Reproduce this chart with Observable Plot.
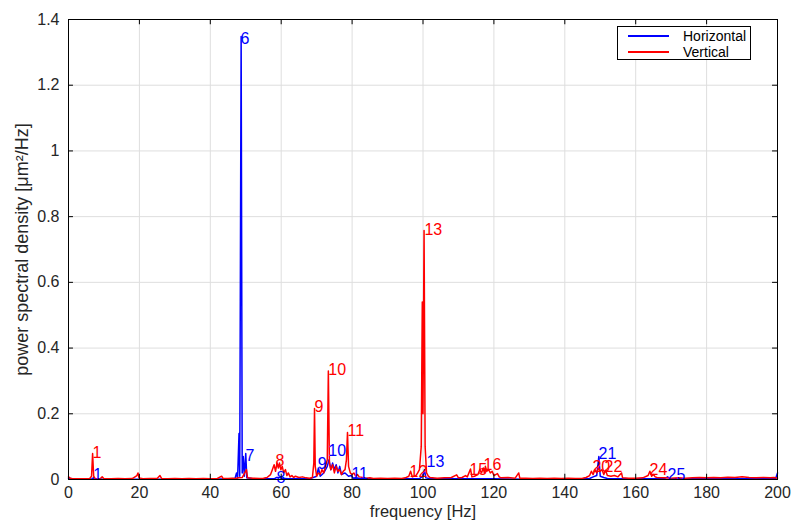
<!DOCTYPE html>
<html>
<head>
<meta charset="utf-8">
<script src="https://cdn.jsdelivr.net/npm/d3@7"></script>
<script src="https://cdn.jsdelivr.net/npm/@observablehq/plot@0.6"></script>
<style>
  html, body { margin: 0; padding: 0; background: #fff; }
  #wrap { position: relative; width: 791px; height: 521px; font-family: "Liberation Sans", Arial, Helvetica, sans-serif; }
  #legend { position: absolute; left: 617px; top: 26px; width: 134px; height: 34px; border: 1px solid #000; background: #fff; box-sizing: border-box; font-size: 14px; color: #000; }
  #legend .row { position: absolute; left: 0; height: 16px; line-height: 16px; }
  #legend .sw { position: absolute; left: 10px; width: 41px; height: 0; border-top: 2px solid; }
  #legend .lb { position: absolute; left: 65px; white-space: nowrap; }
</style>
</head>
<body>
<div id="wrap"></div>
<script>
// ---- Data ----
const seriesNames = ["Horizontal", "Vertical"];
const seriesColors = ["#0000ff", "#ff0000"];

// Horizontal (blue) spectrum: frequency [Hz], PSD [µm²/Hz]
const hFreq = [0, 2, 5, 6.8, 7, 7.3, 10, 20, 30, 40, 46, 47, 47.4, 47.7, 48.1, 48.3, 48.7, 49.0, 49.3, 49.6, 50.0, 50.3, 52, 58, 58.7, 59.6, 60, 62, 68, 70, 70.5, 71, 72, 73, 73.5, 74, 74.5, 75, 75.5, 76, 76.5, 77, 78, 79, 79.8, 80.3, 81, 82, 90, 99, 100.0, 100.4, 100.8, 102, 110, 120, 130, 140, 147, 148, 149, 149.6, 150, 151, 152, 160, 168, 169, 169.5, 180, 190, 199.5, 200];
const hPsd  = [0.004, 0.001, 0.001, 0.002, 0.006, 0.001, 0.001, 0.001, 0.001, 0.001, 0.002, 0.004, 0.02, 0.004, 0.14, 0.01, 1.348, 0.02, 0.07, 0.01, 0.079, 0.005, 0.002, 0.002, 0.006, 0.006, 0.004, 0.002, 0.002, 0.01, 0.035, 0.01, 0.02, 0.04, 0.06, 0.03, 0.05, 0.03, 0.045, 0.02, 0.04, 0.015, 0.02, 0.01, 0.012, 0.004, 0.005, 0.003, 0.002, 0.003, 0.01, 0.03, 0.005, 0.002, 0.002, 0.002, 0.001, 0.001, 0.003, 0.008, 0.012, 0.07, 0.01, 0.006, 0.003, 0.002, 0.002, 0.008, 0.002, 0.002, 0.002, 0.004, 0.02];

// Vertical (red) spectrum
const vFreq = [0, 0.5, 1, 2, 3, 4, 5, 6, 6.5, 6.8, 7.1, 7.5, 8, 9, 9.5, 10, 12, 14, 16, 18, 19.3, 19.6, 19.9, 21, 23, 25, 25.8, 26.3, 28, 30, 32, 34, 36, 38, 40, 42, 43.2, 43.6, 45, 46, 47, 48, 49, 50.2, 50.5, 52, 54, 55, 56, 57, 57.5, 58, 58.4, 58.8, 59.2, 59.5, 59.9, 60.3, 60.7, 61.2, 61.6, 62, 62.5, 63, 63.5, 64, 65, 66, 67, 68, 68.8, 69.2, 69.4, 69.6, 70, 70.5, 71, 71.5, 72, 72.5, 73, 73.3, 73.6, 74, 74.5, 75, 75.5, 76, 76.5, 77, 77.5, 78, 78.4, 78.7, 79, 79.5, 80, 80.5, 81, 81.5, 82, 83, 84, 85, 86, 88, 90, 92, 94, 95, 96, 96.5, 97, 98, 98.5, 99, 99.5, 99.8, 100.0, 100.3, 100.6, 101, 101.5, 102, 104, 106, 108, 109.5, 110, 111, 112, 112.5, 113.4, 113.8, 114.5, 115.5, 116, 116.5, 117, 117.3, 117.6, 118, 118.5, 119, 119.5, 120, 121, 121.5, 122, 124, 126, 127, 127.3, 129, 131, 133, 135, 137, 139, 141, 143, 145, 146, 147, 147.5, 148, 148.5, 149, 149.5, 150, 150.5, 151, 151.5, 152, 153, 154, 155, 156, 156.3, 158, 160, 162, 163.5, 164, 164.5, 165, 165.5, 166, 168, 170, 172, 174, 176, 178, 180, 182, 184, 186, 188, 190, 192, 194, 196, 198, 199, 200];
const vPsd  = [0.008, 0.004, 0.003, 0.002, 0.002, 0.002, 0.002, 0.003, 0.01, 0.079, 0.01, 0.003, 0.002, 0.003, 0.008, 0.002, 0.002, 0.003, 0.002, 0.003, 0.012, 0.02, 0.005, 0.002, 0.003, 0.003, 0.012, 0.003, 0.002, 0.003, 0.002, 0.003, 0.002, 0.003, 0.002, 0.003, 0.01, 0.003, 0.003, 0.004, 0.003, 0.005, 0.006, 0.03, 0.005, 0.004, 0.003, 0.004, 0.006, 0.015, 0.03, 0.045, 0.025, 0.05, 0.035, 0.05, 0.03, 0.04, 0.02, 0.03, 0.012, 0.02, 0.008, 0.012, 0.006, 0.01, 0.006, 0.008, 0.005, 0.004, 0.006, 0.05, 0.216, 0.04, 0.01, 0.02, 0.015, 0.03, 0.02, 0.04, 0.06, 0.33, 0.05, 0.03, 0.045, 0.02, 0.04, 0.025, 0.03, 0.015, 0.025, 0.03, 0.06, 0.143, 0.04, 0.02, 0.015, 0.02, 0.01, 0.015, 0.008, 0.006, 0.004, 0.005, 0.003, 0.004, 0.003, 0.004, 0.003, 0.005, 0.01, 0.025, 0.008, 0.012, 0.02, 0.03, 0.1, 0.54, 0.2, 0.758, 0.1, 0.02, 0.01, 0.006, 0.004, 0.005, 0.006, 0.014, 0.005, 0.006, 0.012, 0.008, 0.032, 0.008, 0.01, 0.015, 0.03, 0.02, 0.035, 0.02, 0.04, 0.025, 0.03, 0.02, 0.025, 0.012, 0.018, 0.008, 0.005, 0.006, 0.004, 0.02, 0.004, 0.004, 0.003, 0.004, 0.003, 0.004, 0.003, 0.004, 0.003, 0.004, 0.006, 0.012, 0.025, 0.015, 0.03, 0.02, 0.035, 0.025, 0.03, 0.015, 0.028, 0.012, 0.01, 0.012, 0.008, 0.02, 0.005, 0.004, 0.004, 0.005, 0.012, 0.025, 0.01, 0.015, 0.008, 0.006, 0.005, 0.004, 0.005, 0.004, 0.005, 0.006, 0.005, 0.006, 0.005, 0.007, 0.006, 0.008, 0.006, 0.005, 0.006, 0.005, 0.006, 0.004];

// Peak labels
const hLabelText = ["1", "6", "7", "8", "9", "10", "11", "13", "21", "25"];
const hLabelFreq = [7.0, 48.5, 49.9, 58.7, 70.3, 73.3, 79.8, 101.0, 149.5, 169.0];
const hLabelPsd  = [0.015, 1.342, 0.073, 0.006, 0.047, 0.088, 0.018, 0.055, 0.079, 0.015];

const vLabelText = ["1", "8", "9", "10", "11", "12", "13", "15", "16", "20", "22", "24"];
const vLabelFreq = [6.8, 58.4, 69.4, 73.3, 78.7, 96.2, 100.4, 113.1, 117.1, 147.8, 151.2, 163.9];
const vLabelPsd  = [0.082, 0.058, 0.222, 0.335, 0.149, 0.024, 0.761, 0.030, 0.043, 0.037, 0.037, 0.030];

// Axes
const xTicks = [0, 20, 40, 60, 80, 100, 120, 140, 160, 180, 200];
const yTicks = [0, 0.2, 0.4, 0.6, 0.8, 1, 1.2, 1.4];
const xDomain = [0, 200];
const yDomain = [0, 1.4];
const xLabel = "frequency [Hz]";
const yLabel = "power spectral density [μm²/Hz]";

// ---- Build tables ----
const hData = hFreq.map((f, i) => ({f, p: hPsd[i]}));
const vData = vFreq.map((f, i) => ({f, p: vPsd[i]}));
const hLabels = hLabelText.map((t, i) => ({t, f: hLabelFreq[i], p: hLabelPsd[i]}));
const vLabels = vLabelText.map((t, i) => ({t, f: vLabelFreq[i], p: vLabelPsd[i]}));

const font = "'Liberation Sans', Arial, Helvetica, sans-serif";
const tickLen = 0.016; // in y units (~5px)
const tickLenX = 1.4;  // in x units (~5px)

const chart = Plot.plot({
  width: 791,
  height: 521,
  marginLeft: 68,
  marginRight: 14,
  marginTop: 19,
  marginBottom: 42,
  style: {fontFamily: font, background: "#fff", overflow: "visible"},
  x: {domain: xDomain, ticks: xTicks},
  y: {domain: yDomain, ticks: yTicks},
  marks: [
    Plot.gridX(xTicks, {stroke: "#dedede", strokeOpacity: 1, strokeWidth: 1}),
    Plot.gridY(yTicks, {stroke: "#dedede", strokeOpacity: 1, strokeWidth: 1}),
    Plot.line(hData, {x: "f", y: "p", stroke: seriesColors[0], strokeWidth: 1.5}),
    Plot.line(vData, {x: "f", y: "p", stroke: seriesColors[1], strokeWidth: 1.5}),
    Plot.text(hLabels, {x: "f", y: "p", text: "t", fill: seriesColors[0], textAnchor: "start", lineAnchor: "middle", fontSize: 16}),
    Plot.text(vLabels, {x: "f", y: "p", text: "t", fill: seriesColors[1], textAnchor: "start", lineAnchor: "middle", fontSize: 16}),
    // inward tick marks on all four sides
    Plot.ruleX(xTicks, {x: d => d, y1: 0, y2: tickLen, stroke: "#000", strokeWidth: 1}),
    Plot.ruleX(xTicks, {x: d => d, y1: 1.4, y2: 1.4 - tickLen, stroke: "#000", strokeWidth: 1}),
    Plot.ruleY(yTicks, {y: d => d, x1: 0, x2: tickLenX, stroke: "#000", strokeWidth: 1}),
    Plot.ruleY(yTicks, {y: d => d, x1: 200, x2: 200 - tickLenX, stroke: "#000", strokeWidth: 1}),
    Plot.frame({stroke: "#000", strokeWidth: 1}),
    Plot.axisX({ticks: xTicks, tickSize: 0, tickPadding: 7, fontSize: 16, color: "#262626", label: null, tickFormat: d => String(d)}),
    Plot.axisY({ticks: yTicks, tickSize: 0, tickPadding: 9, fontSize: 16, color: "#262626", label: null, tickFormat: d => String(d)}),
    Plot.text([xLabel], {frameAnchor: "bottom", dy: 32, text: d => d, fontSize: 16.5, fill: "#262626", textAnchor: "middle", lineAnchor: "middle"}),
    Plot.text([yLabel], {frameAnchor: "left", dx: -46, rotate: -90, text: d => d, fontSize: 18, fill: "#262626", textAnchor: "middle", lineAnchor: "middle"})
  ]
});

const wrap = document.getElementById("wrap");
wrap.appendChild(chart);

// Legend
const legend = document.createElement("div");
legend.id = "legend";
seriesNames.forEach((name, i) => {
  const row = document.createElement("div");
  row.className = "row";
  row.style.top = (1 + i * 16) + "px";
  row.style.width = "100%";
  const sw = document.createElement("div");
  sw.className = "sw";
  sw.style.top = "7px";
  sw.style.borderTopColor = seriesColors[i];
  const lb = document.createElement("div");
  lb.className = "lb";
  lb.textContent = name;
  row.appendChild(sw);
  row.appendChild(lb);
  legend.appendChild(row);
});
wrap.appendChild(legend);
</script>
</body>
</html>
